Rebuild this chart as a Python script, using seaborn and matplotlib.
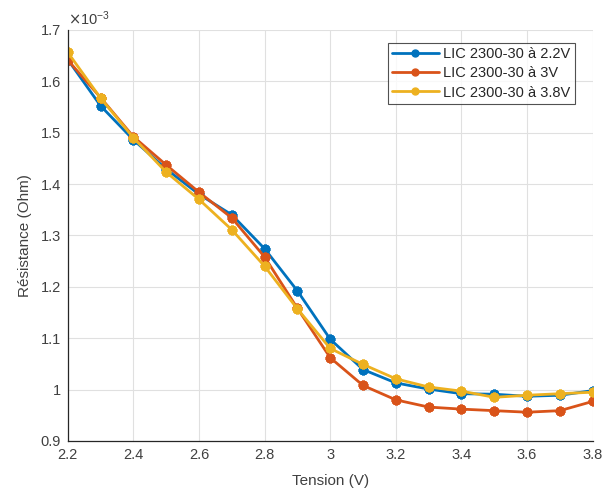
import matplotlib
matplotlib.use("Agg")
import matplotlib.pyplot as plt
import matplotlib.ticker as mticker
import numpy as np
import pandas as pd
import seaborn as sns

# Tension (V)
tension = [2.2, 2.3, 2.4, 2.5, 2.6, 2.7, 2.8, 2.9, 3.0, 3.1, 3.2, 3.3, 3.4, 3.5, 3.6, 3.7, 3.8]

# Resistance in units of 1e-3 Ohm
r_22 = [1.642, 1.552, 1.486, 1.429, 1.380, 1.340, 1.274, 1.192, 1.098, 1.039, 1.013, 1.001,
        0.992, 0.991, 0.987, 0.989, 0.998]
r_30 = [1.641, 1.568, 1.492, 1.437, 1.384, 1.334, 1.258, 1.158, 1.062, 1.008, 0.980, 0.966,
        0.962, 0.959, 0.956, 0.959, 0.977]
r_38 = [1.656, 1.567, 1.490, 1.423, 1.370, 1.311, 1.240, 1.157, 1.080, 1.049, 1.021, 1.005,
        0.997, 0.985, 0.989, 0.992, 0.995]

labels = ["LIC 2300-30 à 2.2V", "LIC 2300-30 à 3V", "LIC 2300-30 à 3.8V"]
colors = ["#0072BD", "#D95319", "#EDB120"]

df = pd.concat([
    pd.DataFrame({"Tension": tension, "R": np.array(vals) * 1e-3, "Serie": lab})
    for vals, lab in zip([r_22, r_30, r_38], labels)
])

sns.set_style("white")
plt.rcParams["font.family"] = ["Liberation Sans", "DejaVu Sans"]
txt = "#404040"

fig = plt.figure(figsize=(6.11, 4.93), dpi=100)
ax = fig.add_axes([0.111, 0.1055, 0.859, 0.834])

sns.lineplot(data=df, x="Tension", y="R", hue="Serie", palette=colors, marker=(8, 2, 0),
             markersize=7, markeredgewidth=2.2, linewidth=2, ax=ax, legend=True)
for ln, c in zip(ax.lines, colors):
    ln.set_markeredgecolor(c)

ax.set_xlim(2.2, 3.8)
ax.set_ylim(0.9e-3, 1.7e-3)
ax.set_xticks(np.arange(2.2, 3.81, 0.2))
ax.set_yticks(np.arange(0.9e-3, 1.701e-3, 0.1e-3))
ax.xaxis.set_major_formatter(mticker.FuncFormatter(lambda v, p: f"{v:g}"))
ax.yaxis.set_major_formatter(mticker.FuncFormatter(lambda v, p: f"{round(v * 1e3, 2):g}"))
ax.tick_params(direction="in", length=4, labelsize=10.5, color="#262626", labelcolor=txt, pad=5)
ax.grid(True, color="#e0e0e0", linewidth=0.8)
for s in ["top", "right"]:
    ax.spines[s].set_visible(False)
for s in ["left", "bottom"]:
    ax.spines[s].set_color("#262626")
    ax.spines[s].set_linewidth(0.9)

ax.text(0.0, 1.005, r"$\times\mathregular{10^{-3}}$", transform=ax.transAxes,
        fontsize=10.5, color=txt, ha="left", va="bottom")

ax.set_xlabel("Tension (V)", fontsize=11, color=txt, labelpad=9)
ax.set_ylabel("Résistance (Ohm)", fontsize=11, color=txt, labelpad=6)

leg = ax.legend(loc="upper right", bbox_to_anchor=(0.966, 0.968), fontsize=10.5,
                frameon=True, fancybox=False, edgecolor="#262626", handlelength=3.2,
                borderpad=0.3, labelspacing=0.35, handletextpad=0.3, borderaxespad=0)
leg.get_frame().set_linewidth(0.8)
for h, c in zip(leg.get_lines(), colors):
    h.set_marker("o")
    h.set_markersize(5)
    h.set_markerfacecolor(c)
    h.set_markeredgecolor(c)
    h.set_markeredgewidth(1)

fig.savefig("out.png", dpi=100)
